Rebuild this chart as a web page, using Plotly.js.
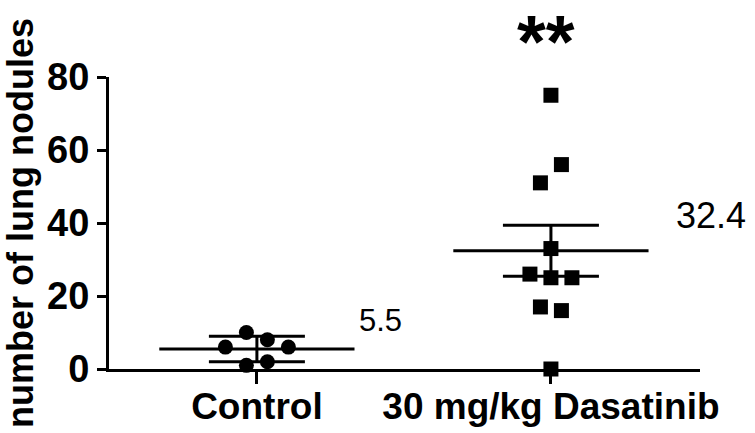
<!DOCTYPE html>
<html>
<head>
<meta charset="utf-8">
<script src="https://cdn.plot.ly/plotly-3.0.1.min.js"></script>
<style>
  body { margin: 0; background: #fff; }
  #nodulesGraph { width: 755px; height: 433px; }
</style>
</head>
<body>
<div id="nodulesGraph"></div>
<script>
const groups = ['Control', '30 mg/kg Dasatinib']
const controlNodules = [10, 8, 6, 6, 1, 2]
const dasatinibNodules = [75, 51, 56, 33, 25, 26, 25, 17, 16, 0]
const errorBars = [3.5, 7.0]
const significance = ['', '**']

const ROW_GAP = 6      // values closer than this share a row in the scatter
const STEP = 0.0714    // horizontal spacing between points of a row
const MEAN_HALF = 0.332

const mean = (arr) => arr.reduce((a, b) => a + b, 0) / arr.length

// GraphPad-like column scatter: points of similar value are spread sideways
const spreadPoints = (values, center) => {
  const order = values.map((v, i) => i).sort((a, b) => values[b] - values[a] || a - b)
  const rows = []
  order.forEach((idx) => {
    const row = rows[rows.length - 1]
    if (row && row.top - values[idx] <= ROW_GAP) {
      row.items.push(idx)
    } else {
      rows.push({ top: values[idx], items: [idx] })
    }
  })
  const xs = new Array(values.length)
  rows.forEach((row) => {
    const items = row.items.slice().sort((a, b) => a - b)
    const n = items.length
    items.forEach((idx, k) => {
      let off
      if (n % 2 === 1) {
        off = k === 0 ? 0 : Math.ceil(k / 2) * (k % 2 === 1 ? -1 : 1)
      } else {
        off = (Math.floor(k / 2) + 0.5) * (k % 2 === 0 ? -1 : 1)
      }
      xs[idx] = center + off * STEP
    })
  })
  return xs
}

const font = { family: 'Liberation Sans, Arial, sans-serif', color: '#000' }
const boldFont = (size) => Object.assign({}, font, { size: size, weight: 'bold' })

const datasets = [controlNodules, dasatinibNodules]
const symbols = ['circle', 'square']
const means = datasets.map(mean)

const traces = []
datasets.forEach((vals, i) => {
  // mean line
  traces.push({
    x: [i - MEAN_HALF, i + MEAN_HALF],
    y: [means[i], means[i]],
    type: 'scatter',
    mode: 'lines',
    line: { color: '#000', width: 3 },
    hoverinfo: 'skip',
    cliponaxis: false
  })
  // error bar
  traces.push({
    x: [i],
    y: [means[i]],
    type: 'scatter',
    mode: 'markers',
    marker: { size: 1, color: 'rgba(0,0,0,0)' },
    error_y: { type: 'data', array: [errorBars[i]], color: '#000', thickness: 3, width: 48 },
    cliponaxis: false
  })
  // individual points
  traces.push({
    x: spreadPoints(vals, i),
    y: vals,
    type: 'scatter',
    mode: 'markers',
    marker: { symbol: symbols[i], size: 15, color: '#000' },
    cliponaxis: false
  })
})

const annotations = []
const labelShift = [[2, 28], [25, 35]]
means.forEach((m, i) => {
  annotations.push({
    x: i + MEAN_HALF,
    y: m,
    xref: 'x',
    yref: 'y',
    text: m.toFixed(1),
    showarrow: false,
    xanchor: 'left',
    yanchor: 'middle',
    xshift: labelShift[i][0],
    yshift: labelShift[i][1],
    font: Object.assign({}, font, { size: i === 0 ? 31 : 36 })
  })
  if (significance[i]) {
    annotations.push({
      x: i,
      y: 1,
      xref: 'x',
      yref: 'paper',
      text: significance[i],
      showarrow: false,
      xanchor: 'center',
      yanchor: 'bottom',
      xshift: -5,
      yshift: -8,
      font: boldFont(74)
    })
  }
})

const layout = {
  width: 755,
  height: 433,
  margin: { t: 77, b: 64, l: 109, r: 55 },
  showlegend: false,
  paper_bgcolor: '#fff',
  plot_bgcolor: '#fff',
  xaxis: {
    range: [-0.503, 1.507],
    tickvals: [0, 1],
    ticktext: groups,
    ticks: 'outside',
    ticklen: 12,
    tickwidth: 3,
    tickcolor: '#000',
    ticklabelstandoff: -9,
    showline: true,
    linewidth: 3,
    linecolor: '#000',
    showgrid: false,
    zeroline: false,
    tickfont: boldFont(37)
  },
  yaxis: {
    range: [0, 80],
    tickvals: [0, 20, 40, 60, 80],
    ticks: 'outside',
    ticklen: 9,
    tickwidth: 3,
    tickcolor: '#000',
    showline: true,
    linewidth: 3,
    linecolor: '#000',
    showgrid: false,
    zeroline: false,
    tickfont: boldFont(38),
    title: { text: 'number of lung nodules', font: boldFont(36), standoff: 8 }
  },
  annotations: annotations
}

Plotly.newPlot('nodulesGraph', traces, layout, { responsive: false, displayModeBar: false, staticPlot: true })
</script>
</body>
</html>
